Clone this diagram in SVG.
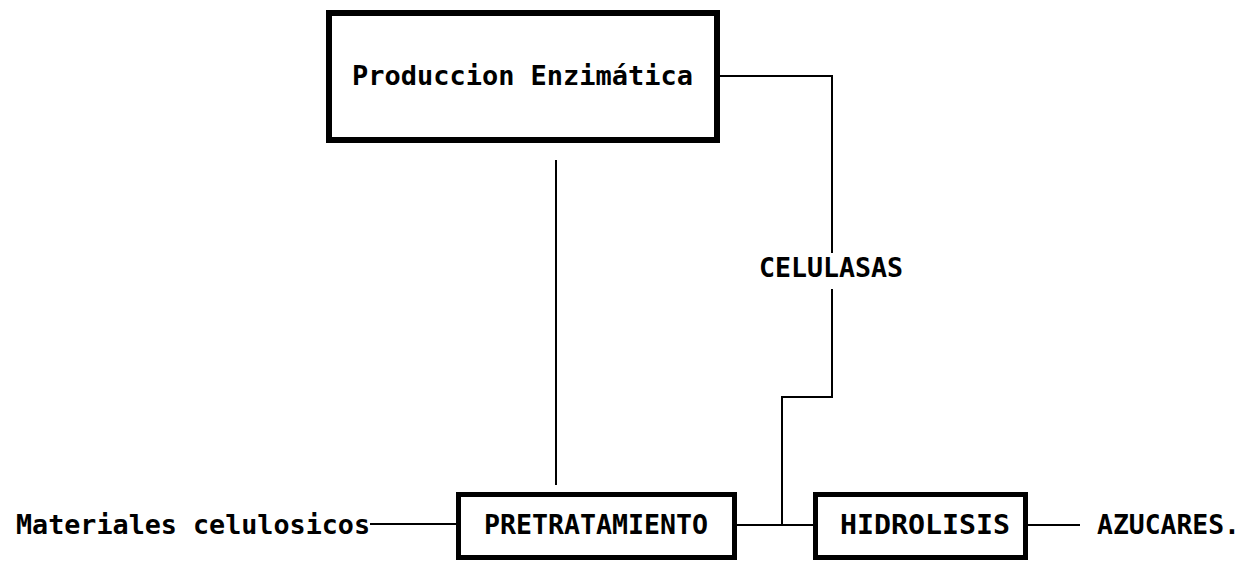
<svg xmlns="http://www.w3.org/2000/svg" width="1246" height="562" viewBox="0 0 1246 562">
<style>
.box{fill:#fff;stroke:#000;stroke-width:5}
.big{stroke-width:6}
.ln{fill:none;stroke:#000;stroke-width:2}
text{font-family:"DejaVu Sans Mono","Liberation Mono",monospace;font-size:27px;font-weight:bold;fill:#000}
</style>
<rect width="1246" height="562" fill="#fff"/>
<g id="connectors">
<path class="ln" d="M556 160V485"/>
<path class="ln" d="M720 76H832V253"/>
<path class="ln" d="M832 289V397H782V525"/>
<path class="ln" d="M737 525H813"/>
<path class="ln" d="M370 524H457"/>
<path class="ln" d="M1028 525H1080"/>
</g>
<g id="produccion">
<rect class="box big" x="329" y="13" width="388" height="127"/>
<text x="352" y="85" textLength="341" lengthAdjust="spacingAndGlyphs">Produccion Enzimática</text>
</g>
<g id="celulasas">
<text x="759" y="277" textLength="144" lengthAdjust="spacingAndGlyphs">CELULASAS</text>
</g>
<g id="materiales">
<text x="16" y="534" textLength="354" lengthAdjust="spacingAndGlyphs">Materiales celulosicos</text>
</g>
<g id="pretratamiento">
<rect class="box" x="458.5" y="494.5" width="276" height="63"/>
<text x="484" y="534" textLength="224" lengthAdjust="spacingAndGlyphs">PRETRATAMIENTO</text>
</g>
<g id="hidrolisis">
<rect class="box" x="815.5" y="494.5" width="210" height="63"/>
<text x="840" y="534" textLength="170" lengthAdjust="spacingAndGlyphs">HIDROLISIS</text>
</g>
<g id="azucares">
<text x="1097" y="534" textLength="143" lengthAdjust="spacingAndGlyphs">AZUCARES.</text>
</g>
</svg>
